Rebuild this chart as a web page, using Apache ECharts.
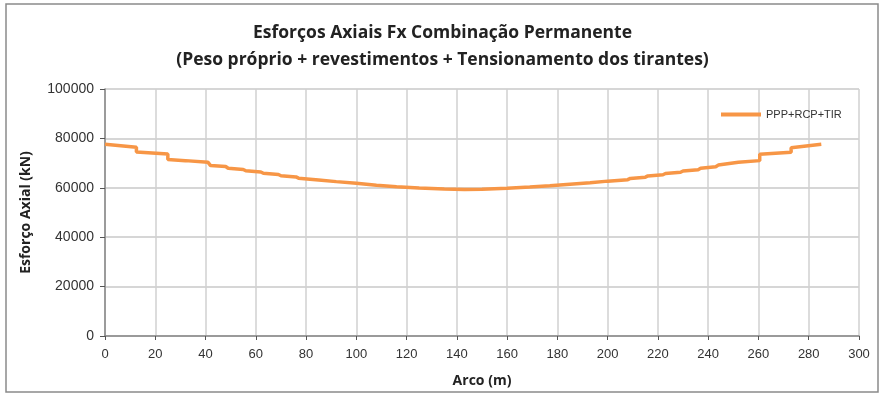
<!DOCTYPE html>
<html>
<head>
<meta charset="utf-8">
<script src="https://cdn.jsdelivr.net/npm/echarts@6/dist/echarts.min.js"></script>
<style>
  html, body { margin: 0; padding: 0; background: #fff; }
  #chart { width: 885px; height: 396px; }
</style>
</head>
<body>
<div id="chart"></div>
<script>
// Arc position (m); repeated positions mark the force jumps at the stay anchorages
const arcX = [
  0, 12.5, 12.5, 25, 25, 32, 41, 42, 48, 49, 55, 56, 62, 63, 69, 70, 76, 77,
  85, 92, 100, 108, 116, 125, 135, 143,
  150, 160, 169, 177, 185, 193, 200, 208, 209, 215, 216, 222, 223, 229, 230,
  236, 237, 243, 244, 252, 260.5, 260.5, 273, 273, 285
];
// Axial force Fx (kN), permanent combination PPP+RCP+TIR
const axialForce = [
  77600, 76400, 74500, 73700, 71500, 71000, 70300, 69000, 68600, 67900, 67400, 66900, 66400, 65900, 65400, 64900, 64400, 63900,
  63200, 62500, 61800, 61000, 60400, 59900, 59500, 59300,
  59400, 59800, 60300, 60800, 61400, 62000, 62700, 63300, 63800, 64300, 64800, 65300, 65800, 66300, 66800,
  67300, 67900, 68500, 69200, 70300, 71000, 73600, 74400, 76200, 77600
];
const seriesName = 'PPP+RCP+TIR';
const titleLines = [
  'Esforços Axiais Fx Combinação Permanente',
  '(Peso próprio + revestimentos + Tensionamento dos tirantes)'
];
const xTitle = 'Arco (m)';
const yTitle = 'Esforço Axial (kN)';

const titleFont = '"Open Sans", sans-serif';
const labelFont = '"Liberation Sans", sans-serif';
const chart = echarts.init(document.getElementById('chart'));
chart.setOption({
  animation: false,
  title: {
    text: titleLines.join('\n'),
    left: 'center',
    top: 15,
    textStyle: { fontFamily: titleFont, fontWeight: 'bold', fontSize: 17.5, lineHeight: 27, color: '#222' }
  },
  legend: {
    data: [seriesName],
    left: 716, top: 104,
    itemWidth: 40, itemHeight: 4, itemGap: 4,
    icon: 'rect',
    textStyle: { fontFamily: labelFont, fontSize: 11, color: '#333' }
  },
  grid: { left: 105, right: 26, top: 89, bottom: 60, containLabel: false },
  xAxis: {
    type: 'value', min: 0, max: 300, interval: 20,
    name: xTitle, nameLocation: 'middle', nameGap: 38,
    nameTextStyle: { fontFamily: titleFont, fontWeight: 'bold', fontSize: 14, color: '#222' },
    axisLine: { onZero: false, lineStyle: { color: '#868686', width: 1.5 } },
    axisTick: { show: true, inside: false, length: 4, lineStyle: { color: '#555' } },
    axisLabel: { fontFamily: labelFont, fontSize: 13, color: '#333', margin: 12 },
    splitLine: { show: true, lineStyle: { color: '#d0d0d0', width: 1.5 } }
  },
  yAxis: {
    type: 'value', min: 0, max: 100000, interval: 20000,
    name: yTitle, nameLocation: 'middle', nameGap: 72, nameRotate: 90,
    nameTextStyle: { fontFamily: titleFont, fontWeight: 'bold', fontSize: 14, color: '#222' },
    axisLine: { show: true, lineStyle: { color: '#868686', width: 1.5 } },
    axisTick: { show: true, inside: false, length: 5, lineStyle: { color: '#555' } },
    axisLabel: { fontFamily: labelFont, fontSize: 14, color: '#333', margin: 11, formatter: v => String(v) },
    splitLine: { show: true, lineStyle: { color: '#c8c8c8', width: 1.5 } }
  },
  graphic: [{
    type: 'rect', silent: true,
    shape: { x: 6, y: 4, width: 872, height: 388 },
    style: { fill: 'none', stroke: '#8a8a8a', lineWidth: 1.5 }
  }],
  series: [{
    name: seriesName,
    type: 'line',
    data: arcX.map((x, i) => [x, axialForce[i]]),
    showSymbol: false,
    lineStyle: { color: '#F79646', width: 3.5 },
    itemStyle: { color: '#F79646' }
  }]
});
</script>
</body>
</html>
